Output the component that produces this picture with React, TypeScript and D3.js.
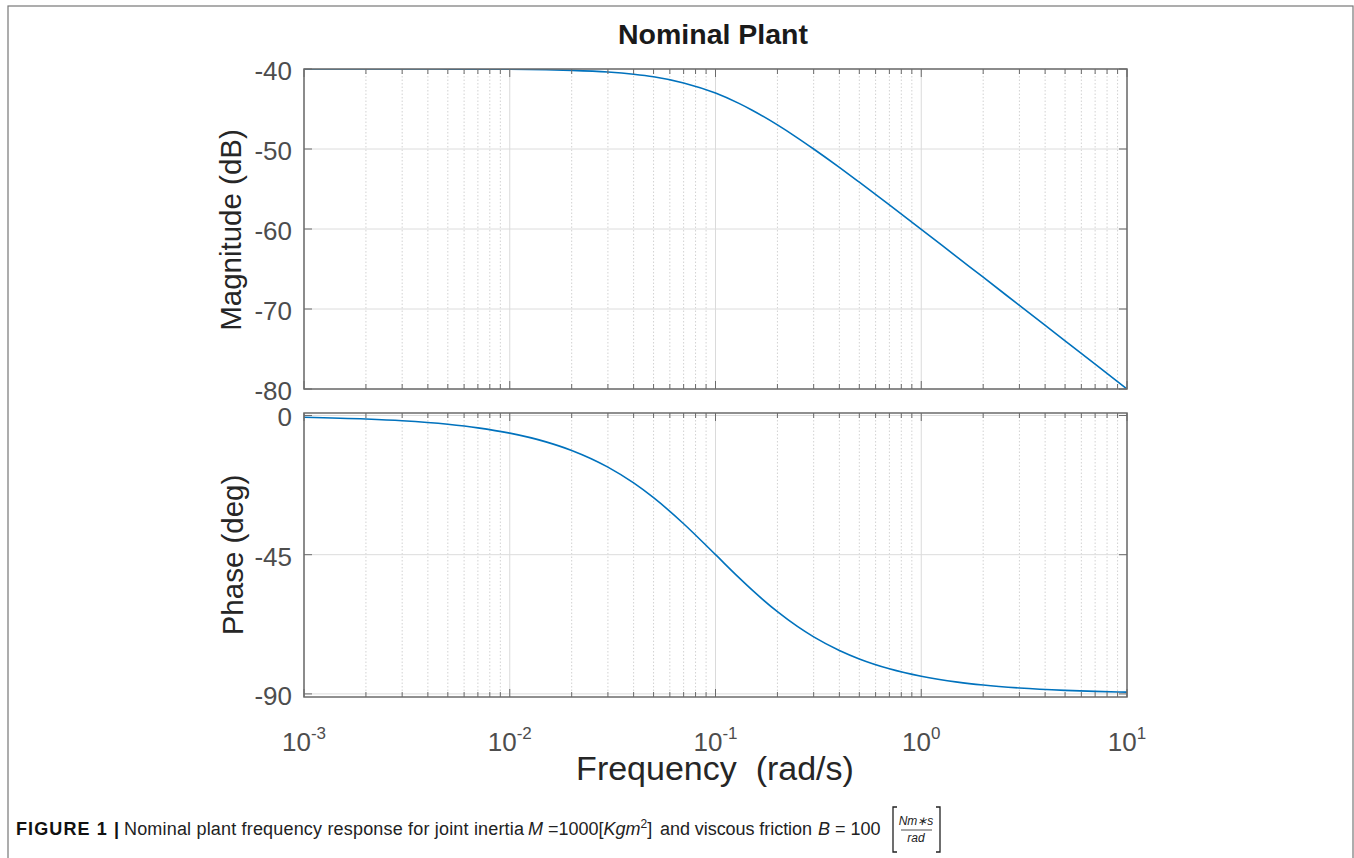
import React from "react";
import * as d3 from "d3";

const freqs = [0.001, 0.002, 0.003, 0.005, 0.007, 0.01, 0.015, 0.02, 0.03, 0.04, 0.05, 0.07, 0.1, 0.13, 0.15, 0.2, 0.25, 0.3, 0.4, 0.5, 0.7, 1, 1.5, 2, 3, 5, 7, 10];
const magDb = [-40.0, -40.0, -40.0, -40.01, -40.02, -40.04, -40.1, -40.17, -40.37, -40.65, -40.97, -41.74, -43.01, -44.3, -45.12, -46.99, -48.6, -50.0, -52.3, -54.15, -56.99, -60.04, -63.55, -66.03, -69.55, -73.98, -76.9, -80.0];
const phaseDeg = [-0.57, -1.15, -1.72, -2.86, -4.0, -5.71, -8.53, -11.31, -16.7, -21.8, -26.57, -34.99, -45.0, -52.43, -56.31, -63.43, -68.2, -71.57, -75.96, -78.69, -81.87, -84.29, -86.19, -87.14, -88.09, -88.85, -89.18, -89.43];

const magTicks = [-40, -50, -60, -70, -80];
const phaseTicks = [0, -45, -90];
const decades = [-3, -2, -1, 0, 1];

const W = 1354;
const H = 858;
const LEFT = 304;
const RIGHT = 1127;
const MAG_TOP = 69;
const MAG_BOT = 389;
const PH_TOP = 413;
const PH_BOT = 697;

const BLUE = "#0072BD";
const AXIS = "#6b6b6b";
const TXT = "#4d4d4d";
const FONT = "'Liberation Sans', Arial, Helvetica, sans-serif";

export default function App() {
  const x = d3.scaleLog().domain([1e-3, 10]).range([LEFT, RIGHT]);
  const yMag = d3.scaleLinear().domain([-80, -40]).range([MAG_BOT, MAG_TOP]);
  const yPh = d3.scaleLinear().domain([-91, 0.8]).range([PH_BOT, PH_TOP]);

  const minorVals: number[] = [];
  for (let d = -3; d < 1; d++) {
    for (let k = 2; k <= 9; k++) minorVals.push(k * Math.pow(10, d));
  }
  const majorVals = decades.map((d) => Math.pow(10, d));

  const magLine = d3
    .line<number>()
    .x((_, i) => x(freqs[i]))
    .y((v) => yMag(v))
    .curve(d3.curveMonotoneX)(magDb) as string;
  const phLine = d3
    .line<number>()
    .x((_, i) => x(freqs[i]))
    .y((v) => yPh(v))
    .curve(d3.curveMonotoneX)(phaseDeg) as string;

  const panel = (top: number, bot: number, yScale: any, ticks: number[], clipId: string, path: string) => (
    <g>
      <rect x={LEFT} y={top} width={RIGHT - LEFT} height={bot - top} fill="#fff" />
      {minorVals.map((v, i) => (
        <line key={"mi" + i} x1={x(v)} x2={x(v)} y1={top} y2={bot} stroke="#d2d2d2" strokeWidth={1} strokeDasharray="1.5,2" />
      ))}
      {majorVals.map((v, i) => (
        <line key={"ma" + i} x1={x(v)} x2={x(v)} y1={top} y2={bot} stroke="#dadada" strokeWidth={1} />
      ))}
      {ticks.map((t, i) => (
        <line key={"hg" + i} x1={LEFT} x2={RIGHT} y1={yScale(t)} y2={yScale(t)} stroke="#dcdcdc" strokeWidth={1} />
      ))}
      <clipPath id={clipId}>
        <rect x={LEFT} y={top} width={RIGHT - LEFT} height={bot - top} />
      </clipPath>
      <path d={path} fill="none" stroke={BLUE} strokeWidth={1.6} clipPath={`url(#${clipId})`} />
      {minorVals.map((v, i) => (
        <g key={"mt" + i}>
          <line x1={x(v)} x2={x(v)} y1={bot} y2={bot - 5} stroke={AXIS} strokeWidth={1} />
          <line x1={x(v)} x2={x(v)} y1={top} y2={top + 5} stroke={AXIS} strokeWidth={1} />
        </g>
      ))}
      {majorVals.map((v, i) => (
        <g key={"Mt" + i}>
          <line x1={x(v)} x2={x(v)} y1={bot} y2={bot - 8} stroke={AXIS} strokeWidth={1} />
          <line x1={x(v)} x2={x(v)} y1={top} y2={top + 8} stroke={AXIS} strokeWidth={1} />
        </g>
      ))}
      {ticks.map((t, i) => (
        <g key={"yt" + i}>
          <line x1={LEFT} x2={LEFT + 8} y1={yScale(t)} y2={yScale(t)} stroke={AXIS} strokeWidth={1} />
          <line x1={RIGHT} x2={RIGHT - 8} y1={yScale(t)} y2={yScale(t)} stroke={AXIS} strokeWidth={1} />
          <text x={292} y={yScale(t) + 2} textAnchor="end" dominantBaseline="central" fontSize={26} fill={TXT} fontFamily={FONT}>
            {t}
          </text>
        </g>
      ))}
      <rect x={LEFT} y={top} width={RIGHT - LEFT} height={bot - top} fill="none" stroke={AXIS} strokeWidth={1.5} />
    </g>
  );

  return (
    <div style={{ position: "absolute", left: 0, top: 0 }}>
      <svg width={W} height={H} style={{ display: "block", background: "#fff" }}>
        <rect x={8} y={6} width={1345} height={H + 10} fill="#fff" stroke="#777" strokeWidth={1.2} />
        <text x={713} y={44} textAnchor="middle" fontSize={28.5} fontWeight="bold" fill="#1a1a1a" fontFamily={FONT}>
          Nominal Plant
        </text>
        {panel(MAG_TOP, MAG_BOT, yMag, magTicks, "clipMag", magLine)}
        {panel(PH_TOP, PH_BOT, yPh, phaseTicks, "clipPh", phLine)}
        <text transform="translate(241,230) rotate(-90)" textAnchor="middle" fontSize={29.5} fill="#262626" fontFamily={FONT}>
          Magnitude (dB)
        </text>
        <text transform="translate(243,555) rotate(-90)" textAnchor="middle" fontSize={29.5} fill="#262626" fontFamily={FONT}>
          Phase (deg)
        </text>
        {decades.map((d, i) => (
          <text key={"xl" + i} x={x(Math.pow(10, d))} y={751} textAnchor="middle" fontSize={26} fill={TXT} fontFamily={FONT}>
            10
            <tspan fontSize={17} dy={-12}>
              {d}
            </tspan>
          </text>
        ))}
        <text x={715} y={780} textAnchor="middle" fontSize={34} fill="#262626" fontFamily={FONT} style={{ whiteSpace: "pre" }}>
          {"Frequency  (rad/s)"}
        </text>
        <g fontFamily={FONT} fontSize={18} fill="#222">
          <text x={16} y={835} fontWeight="bold" fill="#111" textLength={103} lengthAdjust="spacing">
            FIGURE 1 |
          </text>
          <text x={124} y={835} textLength={400} lengthAdjust="spacing">
            Nominal plant frequency response for joint inertia
          </text>
          <text x={528} y={835}>
            <tspan fontStyle="italic">M</tspan>
            <tspan> =1000[</tspan>
            <tspan fontStyle="italic">Kgm</tspan>
            <tspan fontSize={12} dy={-7}>2</tspan>
            <tspan dy={7}>]</tspan>
          </text>
          <text x={660} y={835} textLength={152} lengthAdjust="spacing">
            and viscous friction
          </text>
          <text x={818} y={835}>
            <tspan fontStyle="italic">B</tspan>
            <tspan> = 100</tspan>
          </text>
          <path d="M 897 807 L 893 807 L 893 852 L 897 852" fill="none" stroke="#222" strokeWidth={1.3} />
          <path d="M 936 807 L 940 807 L 940 852 L 936 852" fill="none" stroke="#222" strokeWidth={1.3} />
          <text x={916} y={825} textAnchor="middle" fontSize={12} fontStyle="italic">Nm∗s</text>
          <line x1={901} x2={932} y1={830} y2={830} stroke="#222" strokeWidth={0.8} />
          <text x={916} y={842} textAnchor="middle" fontSize={12} fontStyle="italic">rad</text>
        </g>
      </svg>
    </div>
  );
}
